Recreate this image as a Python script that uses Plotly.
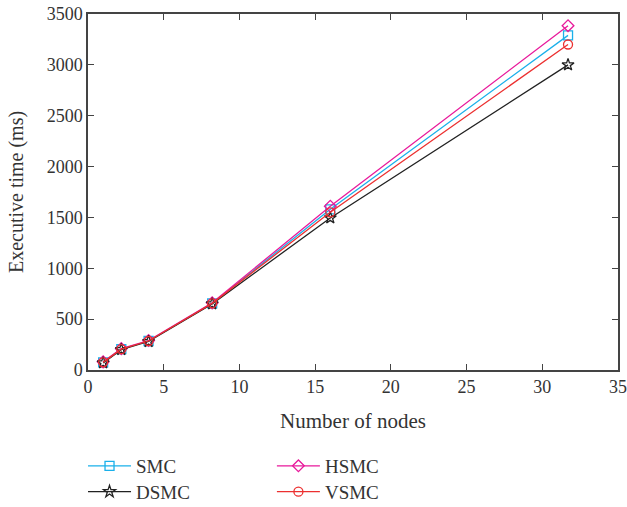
import plotly.graph_objects as go

nodes = [1, 2.2, 4, 8.2, 16, 31.7]
smc = [75, 205, 285, 655, 1580, 3290]
dsmc = [70, 200, 280, 650, 1495, 3000]
hsmc = [80, 210, 290, 660, 1610, 3385]
vsmc = [75, 205, 285, 655, 1550, 3200]

# name, values, colour, symbol, legend id, legend x, legend y (container)
series = [
    ("SMC", smc, "#1ab0ea", "square-open", "legend", -0.0094, 0.081),
    ("HSMC", hsmc, "#e8199b", "diamond-open", "legend2", 0.347, 0.081),
    ("DSMC", dsmc, "#222222", "star-open", "legend3", -0.0094, 0.030),
    ("VSMC", vsmc, "#ec3030", "circle-open", "legend4", 0.347, 0.030),
]

font = "Liberation Serif"
fig = go.Figure()
legends = {}
for name, ys, color, sym, lg, lx, ly in series:
    fig.add_trace(go.Scatter(
        x=nodes, y=ys, name=name, mode="lines+markers", legend=lg,
        line=dict(color=color, width=1.3),
        marker=dict(symbol=sym, size=9, color=color, line=dict(width=1.3, color=color)),
    ))
    legends[lg] = dict(
        x=lx, y=ly, xanchor="left", yanchor="middle", yref="container",
        orientation="v",
        font=dict(family=font, size=19, color="#333"),
        itemwidth=43, bgcolor="rgba(0,0,0,0)",
    )

axis_common = dict(
    showline=True, linecolor="#444", linewidth=1.5, mirror="ticks",
    ticks="inside", ticklen=6, tickcolor="#444", showgrid=False, zeroline=False,
    tickfont=dict(family=font, size=18, color="#333"), automargin=False,
    ticklabeloverflow="allow",
)
fig.update_layout(
    width=627, height=507,
    margin=dict(l=88, r=9, t=14, b=137),
    plot_bgcolor="white", paper_bgcolor="white",
    font=dict(family=font, color="#333"),
    xaxis=dict(range=[0, 35], tickvals=[0, 5, 10, 15, 20, 25, 30, 35],
               title=dict(text="Number of nodes", font=dict(family=font, size=21, color="#333"), standoff=17),
               **axis_common),
    yaxis=dict(range=[0, 3500], tickvals=[0, 500, 1000, 1500, 2000, 2500, 3000, 3500],
               title=dict(text="Executive time (ms)", font=dict(family=font, size=20, color="#333"), standoff=18),
               **axis_common),
    showlegend=True,
    **legends,
)
fig.write_html(
    "out.html",
    config={"displayModeBar": False},
    post_script="document.body.style.margin='0';document.body.style.overflow='hidden';",
)
